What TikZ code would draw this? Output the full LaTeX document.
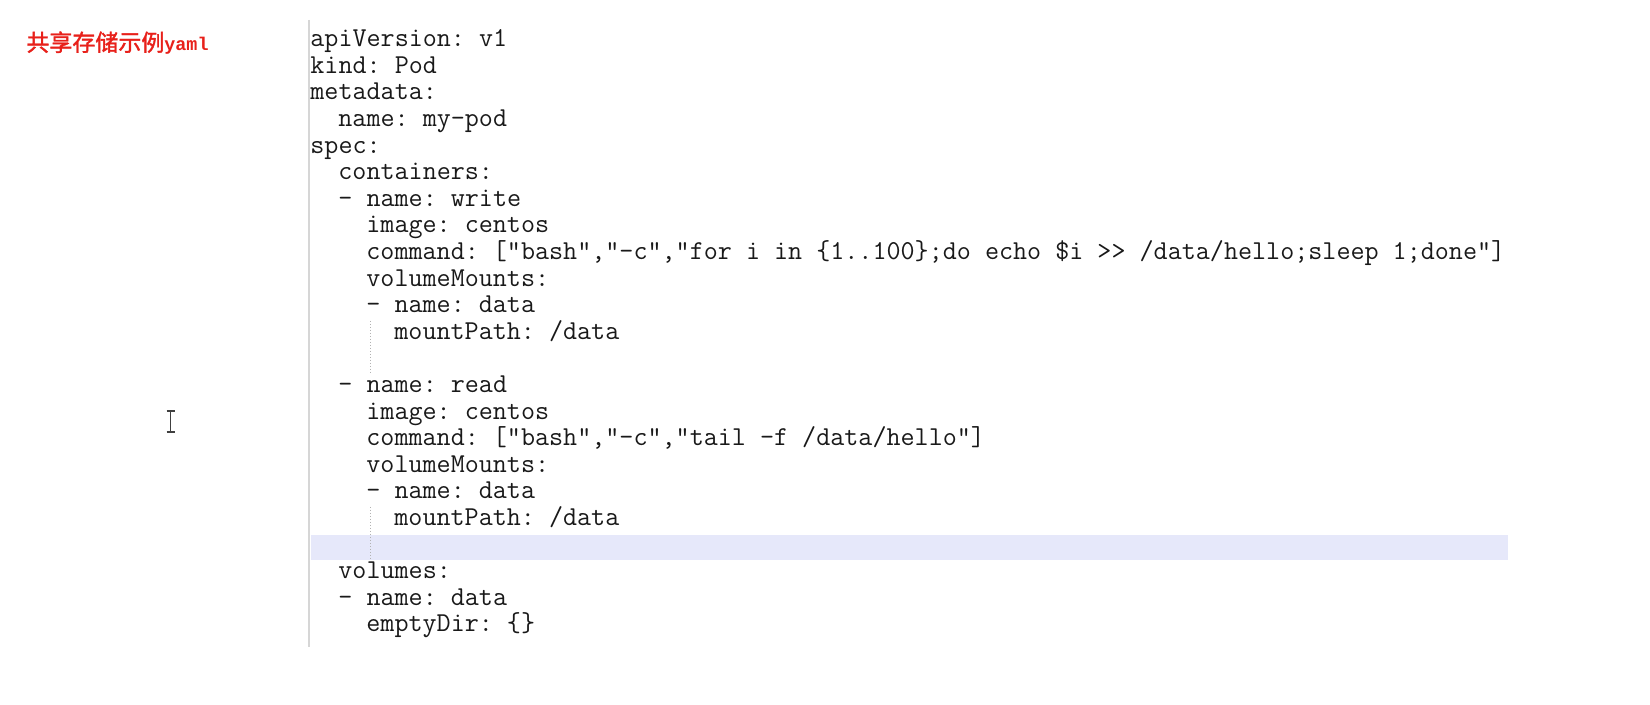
\documentclass[tikz,border=0pt]{standalone}
\usepackage{fontspec}
\setmonofont{Latin Modern Mono}
\newfontfamily\boldmono{Liberation Mono}
\newfontfamily\cjk{Noto Sans CJK SC}[AutoFakeBold=1.5]
\frenchspacing
\definecolor{titlered}{RGB}{232,32,26}
\definecolor{hlblue}{RGB}{230,232,250}
\definecolor{guttergray}{RGB}{214,214,214}
\tikzset{
    code/.style={anchor=base west, inner sep=0pt, text=black!90, font=\ttfamily\fontsize{13.65pt}{14pt}\selectfont},
    guide/.style={gray!60, densely dotted, line width=0.5pt}
}

\begin{document}
\begin{tikzpicture}[x=0.5pt, y=-0.5pt]
    \useasboundingbox[fill=white] (0,0) rectangle (1650,705);
    % current line highlight
    \fill[hlblue] (311,535) rectangle (1508,560);
    % gutter
    \draw[guttergray, line width=1pt] (309,20) -- (309,647);
    % indent guides
    \draw[guide] (370,321) -- (370,374);
    \draw[guide] (370,507) -- (370,561);

    % title
    \node[anchor=base west, inner sep=0pt, text=titlered] (title) at (26,51)
        {{\cjk\bfseries\fontsize{11.5pt}{13pt}\selectfont 共享存储示例}{\boldmono\bfseries\fontsize{9.2pt}{10pt}\selectfont yaml}};

    % yaml
    \node[code] (l1)  at (310,46.7)  {apiVersion: v1};
    \node[code] (l2)  at (310,73.3)  {kind: Pod};
    \node[code] (l3)  at (310,99.9)  {metadata:};
    \node[code] (l4)  at (338,126.5) {name: my-pod};
    \node[code] (l5)  at (310,153.1) {spec:};
    \node[code] (l6)  at (338,179.7) {containers:};
    \node[code] (l7)  at (338,206.3) {- name: write};
    \node[code] (l8)  at (366,232.9) {image: centos};
    \node[code] (l9)  at (366,259.5) {command: ["bash","-c","for i in \{1..100\};do echo \$i >> /data/hello;sleep 1;done"]};
    \node[code] (l10) at (366,286.1) {volumeMounts:};
    \node[code] (l11) at (366,312.7) {- name: data};
    \node[code] (l12) at (394,339.3) {mountPath: /data};
    \node[code] (l14) at (338,392.5) {- name: read};
    \node[code] (l15) at (366,419.1) {image: centos};
    \node[code] (l16) at (366,445.7) {command: ["bash","-c","tail -f /data/hello"]};
    \node[code] (l17) at (366,472.3) {volumeMounts:};
    \node[code] (l18) at (366,498.9) {- name: data};
    \node[code] (l19) at (394,525.5) {mountPath: /data};
    \node[code] (l21) at (338,578.7) {volumes:};
    \node[code] (l22) at (338,605.3) {- name: data};
    \node[code] (l23) at (366,631.9) {emptyDir: \{\}};

    % text cursor
    \draw[black!75, line width=0.8pt] (170.5,411) -- (170.5,432)
        (166.5,411) -- (174.5,411) (166.5,432) -- (174.5,432);
\end{tikzpicture}
\end{document}
